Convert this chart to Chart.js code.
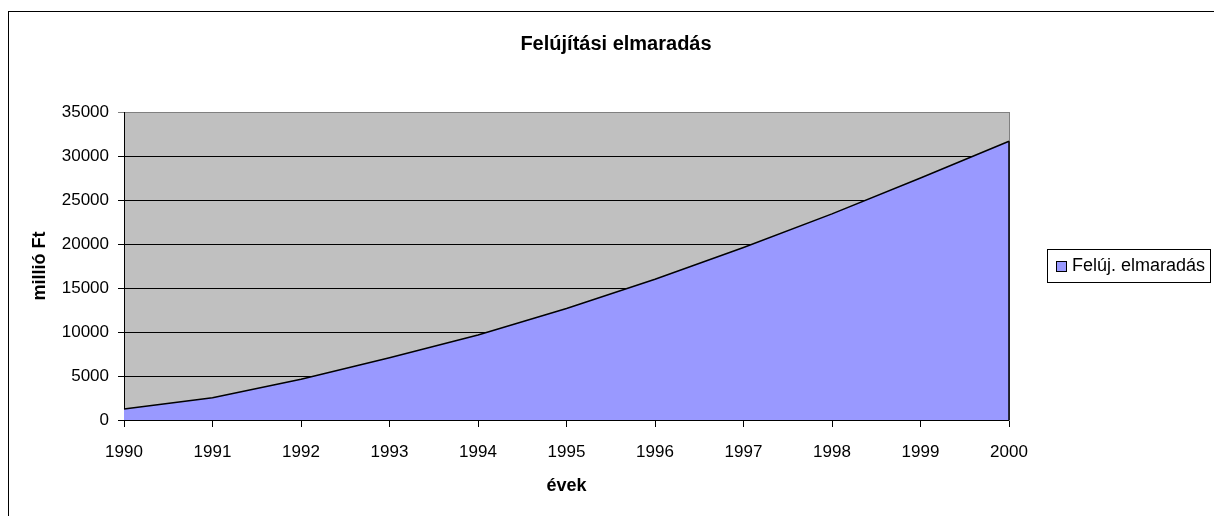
<!DOCTYPE html>
<html>
<head>
<meta charset="utf-8">
<script src="https://cdn.jsdelivr.net/npm/chart.js@4.4.1/dist/chart.umd.min.js"></script>
<style>
  html, body { margin: 0; padding: 0; background: #fff; }
  canvas { display: block; }
</style>
</head>
<body>
<canvas id="chart" width="1214" height="516"></canvas>
<script>
// data
const years = ['1990', '1991', '1992', '1993', '1994', '1995', '1996', '1997', '1998', '1999', '2000'];
const backlog = [1250, 2530, 4620, 7070, 9650, 12680, 16000, 19600, 23420, 27500, 31670];
const yTickValues = [0, 5000, 10000, 15000, 20000, 25000, 30000, 35000];

const chartTitle = 'Felújítási elmaradás';
const seriesLabel = 'Felúj. elmaradás';
const xTitle = 'évek';
const yTitle = 'millió Ft';

Chart.defaults.font.family = "'Liberation Sans', Arial, sans-serif";
Chart.defaults.color = '#000';

// grey plot area + outer frame
const plotBackground = {
  id: 'plotBackground',
  beforeDraw(chart) {
    const { ctx, chartArea: a } = chart;
    ctx.save();
    ctx.fillStyle = '#fff';
    ctx.fillRect(0, 0, chart.width, chart.height);
    ctx.fillStyle = '#C0C0C0';
    ctx.fillRect(a.left, a.top, a.right - a.left, a.bottom - a.top);
    ctx.strokeStyle = '#000';
    ctx.lineWidth = 1;
    ctx.strokeRect(8.5, 11.5, chart.width + 20, chart.height + 20);
    ctx.restore();
  }
};

// close the area outline at the last point, like excel does
const areaEdge = {
  id: 'areaEdge',
  afterDatasetsDraw(chart) {
    const meta = chart.getDatasetMeta(0);
    const last = meta.data[meta.data.length - 1];
    if (!last) return;
    const ctx = chart.ctx;
    ctx.save();
    ctx.strokeStyle = '#000';
    ctx.lineWidth = 1.5;
    ctx.beginPath();
    ctx.moveTo(last.x, last.y);
    ctx.lineTo(last.x, chart.scales.y.getPixelForValue(0));
    ctx.stroke();
    ctx.restore();
  }
};

// boxed legend on the right
const boxLegend = {
  id: 'boxLegend',
  afterDraw(chart) {
    const ctx = chart.ctx;
    const ds = chart.data.datasets[0];
    ctx.save();
    ctx.strokeStyle = '#000';
    ctx.lineWidth = 1;
    ctx.strokeRect(1047.5, 249.5, 163, 33);
    ctx.fillStyle = ds.backgroundColor;
    ctx.fillRect(1056, 261, 11, 11);
    ctx.strokeRect(1056.5, 261.5, 10, 10);
    ctx.fillStyle = '#000';
    ctx.font = "18px 'Liberation Sans', Arial, sans-serif";
    ctx.textBaseline = 'middle';
    ctx.textAlign = 'left';
    ctx.fillText(ds.label, 1072, 266.5);
    ctx.restore();
  }
};

new Chart(document.getElementById('chart'), {
  type: 'line',
  data: {
    labels: years,
    datasets: [{
      label: seriesLabel,
      data: backlog,
      fill: 'origin',
      backgroundColor: '#9999FF',
      borderColor: '#000',
      borderWidth: 1.5,
      pointRadius: 0,
      tension: 0,
      yAxisID: 'y'
    }]
  },
  options: {
    responsive: false,
    animation: false,
    layout: { padding: { left: 18, right: 0, top: 0, bottom: 0 } },
    plugins: {
      legend: { display: false },
      tooltip: { enabled: false },
      title: {
        display: true,
        text: chartTitle,
        color: '#000',
        font: { size: 20, weight: 'bold', lineHeight: 1.2 },
        padding: { top: 32, bottom: 56 }
      }
    },
    scales: {
      x: {
        type: 'category',
        offset: false,
        grid: { drawOnChartArea: false, drawTicks: true, tickLength: 7, color: '#000' },
        border: { color: '#000' },
        ticks: { color: '#000', padding: 15, maxRotation: 0, autoSkip: false, font: { size: 17 } },
        title: {
          display: true,
          text: xTitle,
          color: '#000',
          font: { size: 18, weight: 'bold', lineHeight: 1.2 },
          padding: { top: 0, bottom: 19 }
        },
        afterFit(s) { s.height = 96; }
      },
      y: {
        min: yTickValues[0],
        max: yTickValues[yTickValues.length - 1],
        grid: {
          color: c => (c.tick && c.tick.value === yTickValues[yTickValues.length - 1]) ? '#808080' : '#000',
          tickLength: 6
        },
        border: { color: '#000' },
        ticks: {
          stepSize: yTickValues[1] - yTickValues[0],
          padding: 9,
          color: '#000',
          font: { size: 17 },
          callback: v => String(v)
        },
        title: {
          display: true,
          text: yTitle,
          color: '#000',
          font: { size: 18, weight: 'bold', lineHeight: 1.2 },
          padding: { top: 11, bottom: 0 }
        },
        afterFit(s) { s.width = 106; }
      },
      y2: {
        position: 'right',
        grid: { display: false },
        ticks: { display: false },
        border: { display: true, color: '#808080' },
        afterFit(s) { s.width = 205; }
      }
    }
  },
  plugins: [plotBackground, areaEdge, boxLegend]
});
</script>
</body>
</html>
